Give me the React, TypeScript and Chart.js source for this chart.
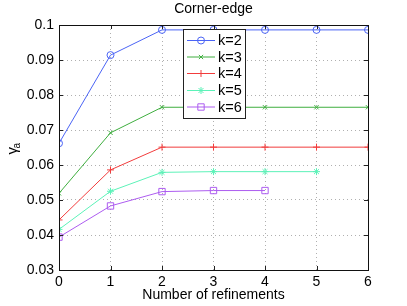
import React, { useEffect, useRef } from "react";
import { Chart, registerables } from "chart.js";

Chart.register(...registerables);

const xValues = [0, 1, 2, 3, 4, 5, 6];
const k2 = [0.0662, 0.0914, 0.0986, 0.0986, 0.0986, 0.0986, 0.0986];
const k3 = [0.0519, 0.0692, 0.0765, 0.0765, 0.0765, 0.0765, 0.0765];
const k4 = [0.0443, 0.0586, 0.0651, 0.0651, 0.0651, 0.0651, 0.0651];
const k5 = [0.0416, 0.0525, 0.0579, 0.0581, 0.0581, 0.0581];
const k6 = [0.0394, 0.0483, 0.0524, 0.0527, 0.0527];
const seriesLabels = ["k=2", "k=3", "k=4", "k=5", "k=6"];
const titleText = "Corner-edge";
const xTitle = "Number of refinements";

const FONT = "'Liberation Sans', Arial, Helvetica, sans-serif";

const styles = [
  { color: "#4b64f5", marker: "circle", radius: 3.5 },
  { color: "#3fae3f", marker: "crossRot", radius: 3 },
  { color: "#f23c3c", marker: "cross", radius: 3.5 },
  { color: "#5cf2b8", marker: "star", radius: 3.5 },
  { color: "#ad5cf0", marker: "rect", radius: 4.5 },
];

const series = [k2, k3, k4, k5, k6];

function drawMarker(ctx: CanvasRenderingContext2D, marker: string, r: number, x: number, y: number, color: string) {
  ctx.save();
  ctx.strokeStyle = color;
  ctx.lineWidth = 1;
  ctx.beginPath();
  if (marker === "circle") {
    ctx.arc(x, y, r, 0, Math.PI * 2);
  } else if (marker === "crossRot") {
    const d = r * Math.SQRT1_2;
    ctx.moveTo(x - d, y - d); ctx.lineTo(x + d, y + d);
    ctx.moveTo(x - d, y + d); ctx.lineTo(x + d, y - d);
  } else if (marker === "cross") {
    ctx.moveTo(x - r, y); ctx.lineTo(x + r, y);
    ctx.moveTo(x, y - r); ctx.lineTo(x, y + r);
  } else if (marker === "star") {
    const d = r * Math.SQRT1_2;
    ctx.moveTo(x - r, y); ctx.lineTo(x + r, y);
    ctx.moveTo(x, y - r); ctx.lineTo(x, y + r);
    ctx.moveTo(x - d, y - d); ctx.lineTo(x + d, y + d);
    ctx.moveTo(x - d, y + d); ctx.lineTo(x + d, y - d);
  } else if (marker === "rect") {
    const s = r * Math.SQRT1_2;
    ctx.rect(x - s, y - s, 2 * s, 2 * s);
  }
  ctx.stroke();
  ctx.restore();
}

const decorPlugin = {
  id: "decor",
  afterDraw(chart: any) {
    const { ctx, chartArea } = chart;
    const { left, right, top, bottom } = chartArea;
    const xs = chart.scales.x;
    const ys = chart.scales.y;
    ctx.save();
    // inward ticks
    ctx.strokeStyle = "#222";
    ctx.lineWidth = 1;
    const tl = 4;
    ctx.beginPath();
    for (const v of xValues) {
      const px = Math.round(xs.getPixelForValue(v)) + 0.5;
      ctx.moveTo(px, bottom);
      ctx.lineTo(px, bottom - tl);
      ctx.moveTo(px, top);
      ctx.lineTo(px, top + tl);
    }
    for (let i = 3; i <= 10; i++) {
      const py = Math.round(ys.getPixelForValue(i / 100)) + 0.5;
      ctx.moveTo(left, py);
      ctx.lineTo(left + tl, py);
      ctx.moveTo(right, py);
      ctx.lineTo(right - tl, py);
    }
    ctx.stroke();
    // frame
    ctx.strokeStyle = "#111";
    ctx.strokeRect(Math.round(left) + 0.5, Math.round(top) + 0.5, Math.round(right - left), Math.round(bottom - top));

    // title
    ctx.fillStyle = "#000";
    ctx.font = `14px ${FONT}`;
    ctx.textAlign = "center";
    ctx.textBaseline = "middle";
    ctx.fillText(titleText, (left + right) / 2, 9);
    // x title
    ctx.fillText(xTitle, (left + right) / 2, 295);
    // y title gamma_a
    ctx.save();
    ctx.translate(13, (top + bottom) / 2);
    ctx.rotate(-Math.PI / 2);
    ctx.font = `15px ${FONT}`;
    ctx.textAlign = "left";
    ctx.fillText("γ", -7, 0);
    ctx.font = `10px ${FONT}`;
    ctx.fillText("a", -1, 4);
    ctx.restore();

    // legend
    const lx = 183.5, ly = 29.5, lw = 62, lh = 89;
    ctx.fillStyle = "#fff";
    ctx.fillRect(lx, ly, lw, lh);
    ctx.strokeStyle = "#222";
    ctx.strokeRect(lx, ly, lw, lh);
    const rowY = [40.5, 57, 73.5, 90.5, 107];
    seriesLabels.forEach((lab, i) => {
      const st = styles[i];
      const y = rowY[i];
      ctx.strokeStyle = st.color;
      ctx.lineWidth = 1;
      ctx.beginPath();
      ctx.moveTo(187, y);
      ctx.lineTo(215, y);
      ctx.stroke();
      drawMarker(ctx, st.marker, st.radius, 201, y, st.color);
      ctx.fillStyle = "#000";
      ctx.font = `14.5px ${FONT}`;
      ctx.textAlign = "left";
      ctx.textBaseline = "middle";
      ctx.fillText(lab, 218, y + 0.5);
    });
    ctx.restore();
  },
};

export default function App() {
  const ref = useRef<HTMLCanvasElement | null>(null);
  useEffect(() => {
    if (!ref.current) return;
    const chart = new Chart(ref.current, {
      type: "line",
      data: {
        datasets: series.map((vals, i) => ({
          label: seriesLabels[i],
          data: vals.map((v, j) => ({ x: xValues[j], y: v })),
          borderColor: styles[i].color,
          backgroundColor: "rgba(0,0,0,0)",
          pointBorderColor: styles[i].color,
          pointBackgroundColor: "rgba(0,0,0,0)",
          pointStyle: styles[i].marker as any,
          pointRadius: styles[i].radius,
          pointBorderWidth: 1,
          borderWidth: 1,
          tension: 0,
          fill: false,
        })),
      },
      options: {
        animation: false,
        responsive: false,
        maintainAspectRatio: false,
        layout: { padding: { left: 0, right: 39, top: 25, bottom: 0 } },
        plugins: {
          legend: { display: false },
          title: { display: false },
          tooltip: { enabled: false },
        },
        scales: {
          x: {
            type: "linear",
            min: 0,
            max: 6,
            afterFit: (s: any) => { s.height = 36; },
            ticks: {
              stepSize: 1,
              padding: 4,
              color: "#000",
              font: { family: FONT, size: 14 },
              maxRotation: 0,
            },
            grid: { color: "#b0b0b0", drawTicks: false, lineWidth: 1 },
            border: { display: false, dash: [1, 3] },
          },
          y: {
            type: "linear",
            min: 0.03,
            max: 0.1,
            afterFit: (s: any) => { s.width = 59; },
            ticks: {
              stepSize: 0.01,
              padding: 5,
              color: "#000",
              font: { family: FONT, size: 14 },
              callback: (v: any) => String(Number(Number(v).toFixed(2))),
            },
            grid: { color: "#b0b0b0", drawTicks: false, lineWidth: 1 },
            border: { display: false, dash: [1, 3] },
          },
        },
      },
      plugins: [decorPlugin],
    });
    return () => chart.destroy();
  }, []);
  return (
    <div style={{ position: "fixed", left: 0, top: 0, width: 407, height: 306, background: "#fff" }}>
      <canvas ref={ref} width={407} height={306} style={{ width: 407, height: 306 }} />
    </div>
  );
}
